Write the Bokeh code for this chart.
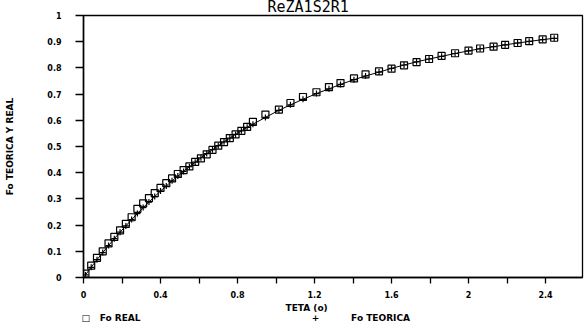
from bokeh.plotting import figure
from bokeh.models import (Range1d, FixedTicker, CustomJSTickFormatter, Title, LinearAxis)
from bokeh.embed import file_html
from bokeh.resources import INLINE

# ---- data ----
teta = [0.01, 0.04, 0.07, 0.10, 0.13, 0.16, 0.19, 0.22, 0.25, 0.28, 0.31, 0.34,
        0.37, 0.40, 0.43, 0.46, 0.49, 0.52, 0.55, 0.58, 0.61, 0.64, 0.67, 0.70,
        0.73, 0.76, 0.79, 0.82, 0.85,
        0.88, 0.945, 1.015, 1.075, 1.14, 1.21, 1.275, 1.335, 1.405, 1.465, 1.535,
        1.60, 1.665, 1.73, 1.795, 1.86, 1.93, 2.00, 2.06, 2.13, 2.19, 2.255,
        2.315, 2.385, 2.445]
fo_real = [0.015, 0.045, 0.075, 0.100, 0.130, 0.155, 0.180, 0.205, 0.230, 0.262,
           0.283, 0.303, 0.322, 0.342, 0.360, 0.378, 0.395, 0.410, 0.424, 0.441,
           0.455, 0.470, 0.487, 0.503, 0.517, 0.532, 0.546, 0.560, 0.575,
           0.594, 0.622, 0.641, 0.666, 0.689, 0.707, 0.727, 0.742, 0.760, 0.775,
           0.787, 0.797, 0.810, 0.822, 0.834, 0.846, 0.856, 0.866, 0.874, 0.881,
           0.888, 0.895, 0.902, 0.909, 0.915]
fo_teorica = [0.010, 0.039, 0.068, 0.095, 0.122, 0.148, 0.173, 0.197, 0.221, 0.244,
              0.267, 0.288, 0.309, 0.330, 0.349, 0.369, 0.387, 0.405, 0.423, 0.440,
              0.457, 0.473, 0.488, 0.503, 0.518, 0.532, 0.546, 0.560, 0.573,
              0.585, 0.611, 0.638, 0.659, 0.680, 0.702, 0.720, 0.737, 0.755, 0.769,
              0.784, 0.798, 0.811, 0.823, 0.834, 0.844, 0.855, 0.865, 0.873, 0.881,
              0.888, 0.895, 0.901, 0.908, 0.913]

x_ticks = [0, 0.2, 0.4, 0.6, 0.8, 1.0, 1.2, 1.4, 1.6, 1.8, 2.0, 2.2, 2.4]
y_ticks = [0, 0.1, 0.2, 0.3, 0.4, 0.5, 0.6, 0.7, 0.8, 0.9, 1.0]

title_text = "ReZA1S2R1"
x_label = "TETA (o)"
y_label = "Fo TEORICA Y REAL"
legend_texts = ["\u25a1", "Fo REAL", "+", "Fo TEORICA"]
legend_pos = [0.012, 0.19, 1.205, 1.543]

FONT = "DejaVu Sans"

p = figure(width=584, height=325, x_range=Range1d(0, 2.592), y_range=Range1d(0, 1),
           output_backend="svg", toolbar_location=None,
           min_border_left=83, min_border_right=2, min_border_top=0, min_border_bottom=0)
p.xgrid.visible = False
p.ygrid.visible = False
p.outline_line_color = "black"
p.outline_line_width = 1.3
p.background_fill_color = "white"
p.border_fill_color = "white"

p.title.text = title_text
p.title.text_font = "DejaVu Sans Mono"
p.title.text_font_size = "15px"
p.title.text_font_style = "normal"
p.title.text_color = "black"
p.title.align = "left"
p.title.vertical_align = "top"
p.title.offset = 184
p.title.standoff = -5

p.xaxis.ticker = FixedTicker(ticks=x_ticks)
p.xaxis.formatter = CustomJSTickFormatter(code="""
    const v = Math.round(tick*10);
    return (v % 4 == 0) ? (v/10).toString() : "";
""")
p.yaxis.ticker = FixedTicker(ticks=y_ticks)
p.yaxis.formatter = CustomJSTickFormatter(code="return (Math.round(tick*10)/10).toString();")

for ax in (p.xaxis, p.yaxis):
    ax.axis_line_color = "black"
    ax.axis_line_width = 1.5
    ax.major_tick_line_color = "black"
    ax.major_tick_line_width = 1.3
    ax.major_tick_in = 0
    ax.minor_tick_line_color = None
    ax.major_label_text_font = FONT
    ax.major_label_text_font_style = "bold"
    ax.major_label_text_font_size = "8px"
    ax.major_label_text_color = "black"
p.xaxis.major_tick_out = 6
p.xaxis.major_label_standoff = 7
p.yaxis.major_tick_out = 8
p.yaxis.major_label_standoff = 14

p.yaxis.axis_label = y_label
p.yaxis.axis_label_text_font = FONT
p.yaxis.axis_label_text_font_style = "bold"
p.yaxis.axis_label_text_font_size = "9px"
p.yaxis.axis_label_text_color = "black"
p.yaxis.axis_label_standoff = 29

# series
p.line(teta, fo_teorica, line_color="black", line_width=1)
p.scatter(teta, fo_teorica, marker="cross", size=6, line_color="black", line_width=1.2)
p.scatter(teta, fo_real, marker="square", size=7, line_color="black", line_width=1.2,
          fill_color=None)

# x axis label as a bottom title, placed like the reference
xt = Title(text=x_label, align="left", offset=202, standoff=0,
           text_font=FONT, text_font_style="bold", text_font_size="9px",
           text_color="black")
p.add_layout(xt, "below")

# legend row, drawn as a tick-less axis carrying the legend texts
leg_axis = LinearAxis(ticker=FixedTicker(ticks=legend_pos),
                      formatter=CustomJSTickFormatter(args=dict(labels=legend_texts),
                                                      code="return labels[index];"),
                      axis_line_color=None, major_tick_line_color=None,
                      minor_tick_line_color=None, major_tick_out=0, major_tick_in=0,
                      major_label_standoff=0, major_label_text_font=FONT,
                      major_label_text_font_style="bold",
                      major_label_text_font_size="9px", major_label_text_color="black")
p.add_layout(leg_axis, "below")

open("out.html", "w").write(file_html(p, INLINE))
